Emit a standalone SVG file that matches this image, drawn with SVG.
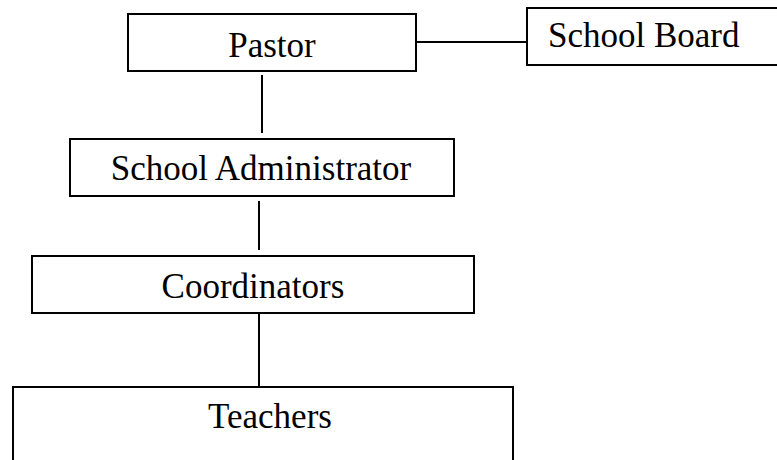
<svg xmlns="http://www.w3.org/2000/svg" width="777" height="460" viewBox="0 0 777 460">
  <style>
    .box { fill: #ffffff; stroke: #000000; stroke-width: 2; }
    .lbl { font-family: "Liberation Serif", "Times New Roman", serif; font-size: 35px; fill: #000000; }
    .mid { text-anchor: middle; }
    .conn { stroke: #000000; stroke-width: 2; fill: none; }
  </style>
  <rect width="777" height="460" fill="#ffffff"/>
  <g id="connectors">
    <line class="conn" x1="416" y1="42" x2="527" y2="42"/>
    <line class="conn" x1="262" y1="75" x2="262" y2="133"/>
    <line class="conn" x1="259" y1="201" x2="259" y2="250"/>
    <line class="conn" x1="259" y1="313" x2="259" y2="387"/>
  </g>
  <g id="pastor">
    <rect class="box" x="128" y="14" width="288" height="57"/>
    <text class="lbl mid" x="272" y="57">Pastor</text>
  </g>
  <g id="school-board">
    <rect class="box" x="527" y="8" width="270" height="57"/>
    <text class="lbl" x="548" y="47">School Board</text>
  </g>
  <g id="school-administrator">
    <rect class="box" x="70" y="139" width="384" height="57"/>
    <text class="lbl mid" x="261" y="180">School Administrator</text>
  </g>
  <g id="coordinators">
    <rect class="box" x="32" y="256" width="442" height="57"/>
    <text class="lbl mid" x="253" y="298">Coordinators</text>
  </g>
  <g id="teachers">
    <rect class="box" x="13" y="387" width="500" height="90"/>
    <text class="lbl mid" x="270" y="428">Teachers</text>
  </g>
</svg>
